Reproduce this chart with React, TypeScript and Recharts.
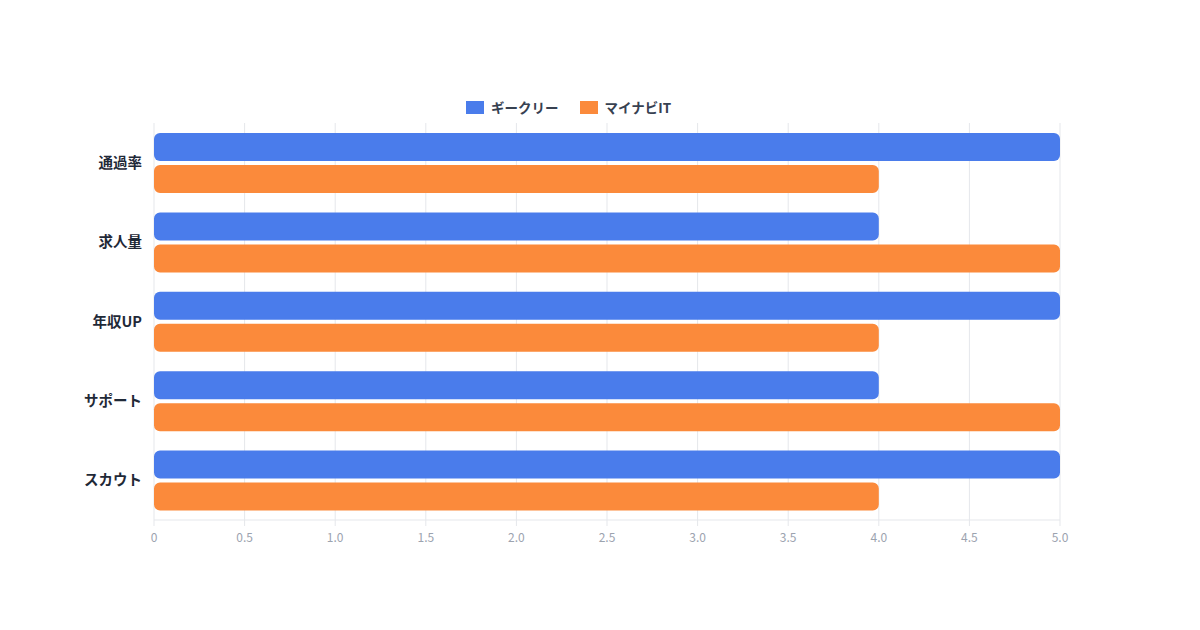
import React from "react"
import { BarChart, Bar, XAxis, YAxis, CartesianGrid } from "recharts"

const categories = ["通過率", "求人量", "年収UP", "サポート", "スカウト"]
const geekly = [5, 4, 5, 4, 5]
const mynaviIT = [4, 5, 4, 5, 4]
const xTicks = [0, 0.5, 1, 1.5, 2, 2.5, 3, 3.5, 4, 4.5, 5]

const series = [
  { key: "geekly", name: "ギークリー", color: "#4a7ceb", values: geekly },
  { key: "mynavi", name: "マイナビIT", color: "#fb8a3b", values: mynaviIT },
]

const data = categories.map((name, i) => {
  const row: any = { name }
  series.forEach((s) => (row[s.key] = s.values[i]))
  return row
})

const font = '"Noto Sans CJK JP", "Noto Sans", sans-serif'

// legend drawn as html over the chart
function LegendBox() {
  return (
    <div
      style={{
        position: "absolute",
        top: 97,
        left: 466,
        display: "flex",
        gap: 21,
        fontFamily: font,
        fontSize: 13.5,
        fontWeight: 700,
        color: "#374151",
        lineHeight: "20px",
      }}
    >
      {series.map((s) => (
        <div key={s.key} style={{ display: "flex", alignItems: "center", gap: 7 }}>
          <span style={{ width: 18, height: 13, background: s.color, display: "inline-block" }} />
          <span>{s.name}</span>
        </div>
      ))}
    </div>
  )
}

export default function App() {
  return (
    <div style={{ position: "absolute", top: 0, left: 0, width: 1200, height: 630, background: "#fff" }}>
      <LegendBox />
      <BarChart
        layout="vertical"
        width={1200}
        height={630}
        data={data}
        margin={{ top: 123, right: 140, bottom: 80, left: 80 }}
        barSize={28}
        barGap={4}
      >
        <CartesianGrid horizontal={false} stroke="#e5e7eb" />
        <XAxis
          type="number"
          domain={[0, 5]}
          ticks={xTicks}
          height={30}
          stroke="#e5e7eb"
          tickSize={6}
          tickMargin={7}
          tickFormatter={(v: number) => (v === 0 ? "0" : v.toFixed(1))}
          tick={{ fill: "#9ca3af", fontSize: 12, fontFamily: font }}
        />
        <YAxis
          type="category"
          dataKey="name"
          width={74}
          axisLine={false}
          tickLine={false}
          tickSize={0}
          tickMargin={12}
          tick={{ fill: "#1f2937", fontSize: 14.5, fontWeight: 700, fontFamily: font }}
        />
        {series.map((s) => (
          <Bar
            key={s.key}
            dataKey={s.key}
            name={s.name}
            fill={s.color}
            radius={6}
            isAnimationActive={false}
          />
        ))}
      </BarChart>
    </div>
  )
}
